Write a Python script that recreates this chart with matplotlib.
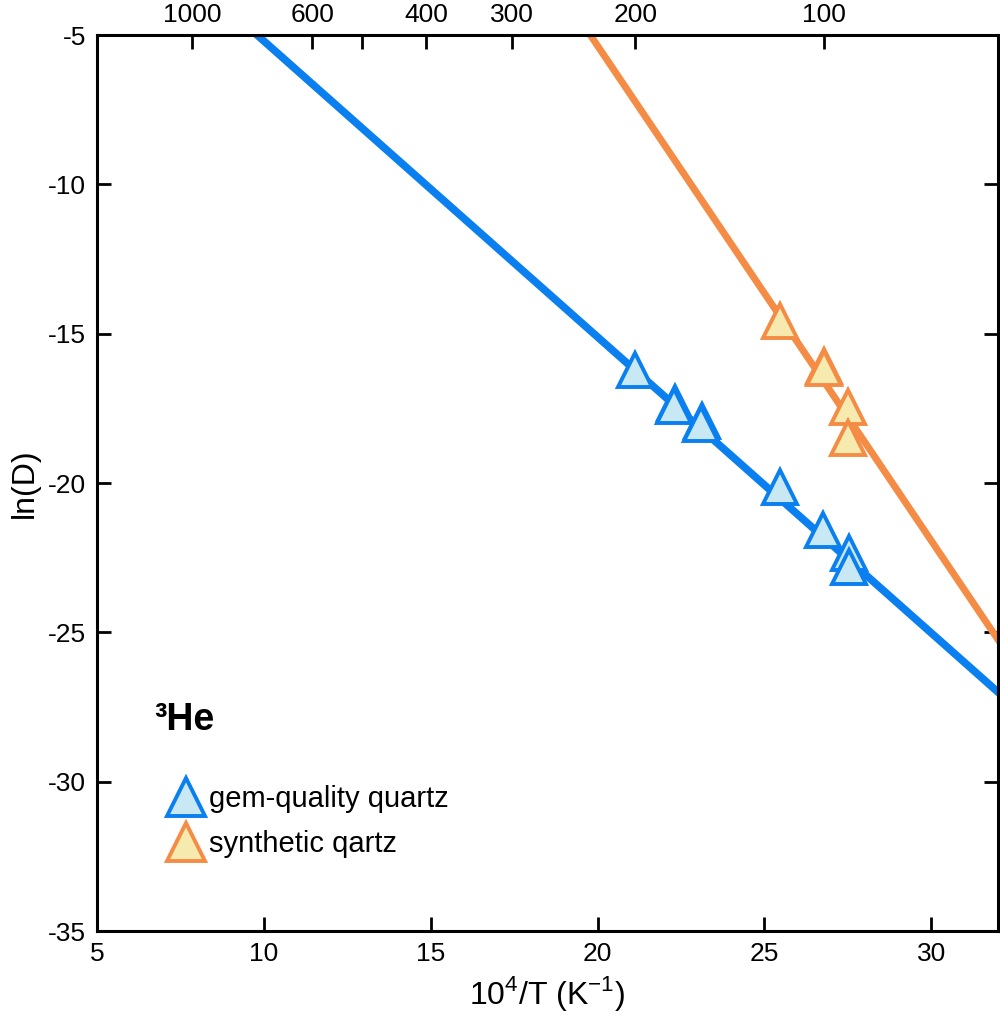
import numpy as np
import matplotlib.pyplot as plt

# data (x = 10^4/T, y = ln D)
gem_x = [21.13, 22.33, 22.30, 23.12, 23.10, 25.47, 26.77, 27.52, 27.52]
gem_y = [-16.21, -17.33, -17.42, -17.94, -18.02, -20.12, -21.57, -22.33, -22.80]
syn_x = [25.47, 26.80, 26.80, 27.50, 27.50]
syn_y = [-14.57, -16.08, -16.15, -17.47, -18.50]

# Arrhenius fits (slope, intercept)
gem_fit = (-0.991, 4.71)
syn_fit = (-1.657, 27.78)

top_temps = [1000, 600, 500, 400, 300, 200, 100]
top_labels = ['1000', '600', '', '400', '300', '200', '100']

blue = '#0a7ff0'
blue_fill = '#c8e8f4'
orange = '#f48c45'
orange_fill = '#f6eaae'

plt.rcParams['font.family'] = ['Liberation Sans', 'DejaVu Sans']
plt.rcParams['axes.unicode_minus'] = False
plt.rcParams['mathtext.fontset'] = 'custom'
plt.rcParams['mathtext.rm'] = 'Liberation Sans'

fig = plt.figure(figsize=(10, 10.24), dpi=100)
ax = fig.add_axes([0.097, 0.0908, 0.901, 0.875])

xx = np.linspace(5, 32, 200)
ax.plot(xx, gem_fit[0] * xx + gem_fit[1], color=blue, lw=5.5, zorder=2)
ax.plot(xx, syn_fit[0] * xx + syn_fit[1], color=orange, lw=5, zorder=2)

ax.plot(gem_x, gem_y, ls='none', marker='^', ms=25, mfc=blue_fill, mec=blue,
        mew=2.8, zorder=3, label='gem-quality quartz')
ax.plot(syn_x, syn_y, ls='none', marker='^', ms=25, mfc=orange_fill, mec=orange,
        mew=2.8, zorder=3, label='synthetic qartz')

ax.set_xlim(5, 32)
ax.set_ylim(-35, -5)
ax.set_xticks([5, 10, 15, 20, 25, 30])
ax.set_yticks([-35, -30, -25, -20, -15, -10, -5])

for s in ax.spines.values():
    s.set_linewidth(2.2)
ax.tick_params(direction='in', length=10, width=2, top=False, right=True,
               labelsize=19, pad=8)

ax.set_xlabel('10$^{4}$/T (K$^{-1}$)', fontsize=23, labelpad=6)
ax.set_ylabel('ln(D)', fontsize=23, labelpad=6)

ax2 = ax.twiny()
ax2.set_xlim(ax.get_xlim())
ax2.set_xticks([1e4 / (t + 273.15) for t in top_temps])
ax2.set_xticklabels(top_labels)
ax2.tick_params(direction='in', length=10, width=2, labelsize=19, pad=6)

ax.text(0.064, 0.2355, '³He', transform=ax.transAxes, fontsize=27,
        fontweight='bold', va='center', ha='left')

leg = ax.legend(loc='upper left', bbox_to_anchor=(0.066, 0.176), frameon=False,
                fontsize=21, handletextpad=0.2, handlelength=1.2,
                labelspacing=0.6, borderaxespad=0, markerscale=1.1)

fig.savefig('out.png', dpi=100)
